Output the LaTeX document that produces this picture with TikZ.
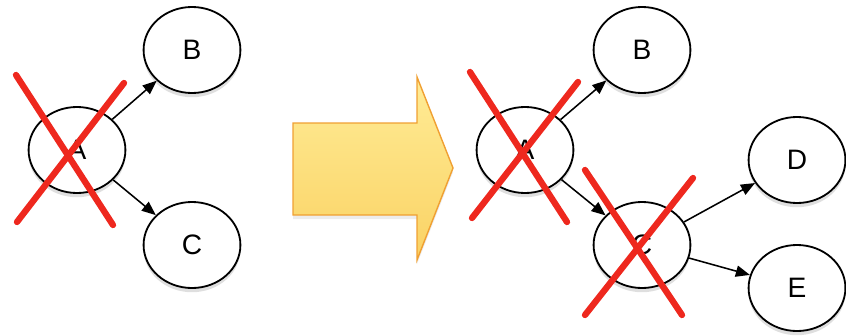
\documentclass[tikz,border=0pt]{standalone}
\usepackage{fontspec}
\setmainfont{Liberation Sans}
\usetikzlibrary{positioning, shapes.geometric, arrows.meta, shadows}
\definecolor{CrossRed}{RGB}{238,40,30}
\definecolor{ArrowTop}{RGB}{255,236,150}
\definecolor{ArrowBot}{RGB}{250,210,100}
\definecolor{ArrowEdge}{RGB}{240,160,50}
\newcommand{\statefont}{\fontsize{20pt}{20pt}\selectfont}
\tikzset{
  state/.style={ellipse, draw=black, line width=1.3pt, fill=white,
    minimum width=2.42cm, minimum height=2.15cm, inner sep=0pt,
    font=\statefont,
    drop shadow={shadow xshift=0pt, shadow yshift=-3pt, opacity=0.25}},
  link/.style={line width=1.1pt, -{Triangle[length=10pt,width=8pt]}},
  cross/.style={CrossRed, line width=4.5pt, line cap=round}
}
\begin{document}
\begin{tikzpicture}[x=0.025cm, y=-0.025cm]
  \useasboundingbox (0,0) rectangle (846,335);
  %% Before: A with children B and C
  \node[state] (la) at (77,150) {A};
  \node[state] (lb) at (192,50) {B};
  \node[state] (lc) at (192,245) {C};
  \draw[link] (la) -- (lb);
  \draw[link] (la) -- (lc);
  \draw[cross] (16,75) -- (113,225);
  \draw[cross] (124,83) -- (17,222);
  %% Big arrow
  \shade[top color=ArrowTop, bottom color=ArrowBot, draw=ArrowEdge, line width=1pt,
         drop shadow={shadow xshift=0pt, shadow yshift=-3pt, opacity=0.15}]
    (293,123) -- (417,123) -- (417,77) -- (453,168) -- (417,260)
    -- (417,215) -- (293,215) -- cycle;
  %% After: C has children D and E
  \node[state] (ra) at (525,150) {A};
  \node[state] (rb) at (642,50) {B};
  \node[state] (rc) at (642,245) {C};
  \node[state] (rd) at (797,160) {D};
  \node[state] (re) at (797,288) {E};
  \draw[link] (ra) -- (rb);
  \draw[link] (ra) -- (rc);
  \draw[link] (rc) -- (rd);
  \draw[link] (rc) -- (re);
  \draw[cross] (470,72) -- (567,222);
  \draw[cross] (578,82) -- (472,218);
  \draw[cross] (585,170) -- (682,315);
  \draw[cross] (693,178) -- (585,315);
\end{tikzpicture}
\end{document}
